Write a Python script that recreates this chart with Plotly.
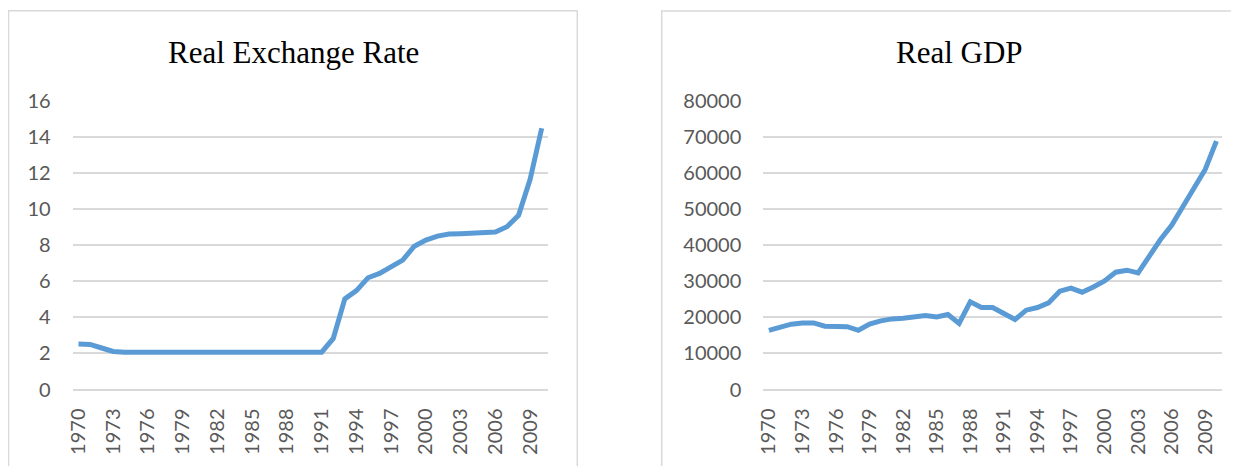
import plotly.graph_objects as go

years = list(range(1970, 2011))
year_labels = [str(y) for y in years]
tick_years = [str(y) for y in range(1970, 2011, 3)]

real_exchange_rate = [
    2.52, 2.50, 2.30, 2.11, 2.07, 2.07, 2.07, 2.07, 2.07, 2.07,
    2.07, 2.07, 2.07, 2.07, 2.07, 2.07, 2.07, 2.07, 2.07, 2.07,
    2.07, 2.07, 2.83, 5.02, 5.48, 6.19, 6.43, 6.80, 7.17, 7.94,
    8.28, 8.50, 8.61, 8.63, 8.65, 8.68, 8.72, 9.02, 9.65, 11.65,
    14.47,
]

real_gdp = [
    16400, 17300, 18100, 18450, 18450, 17530, 17530, 17400, 16400, 18100,
    19000, 19560, 19750, 20300, 20500, 20100, 20770, 18280, 24270, 22700,
    22700, 21050, 19390, 21970, 22700, 23990, 27230, 28060, 26950, 28420,
    30080, 32500, 33050, 32300, 37000, 41550, 45510, 50580, 56120, 60940,
    68780,
]

titles = ["Real Exchange Rate", "Real GDP"]
y_ranges = [[0, 16], [0, 80000]]
y_dticks = [2, 10000]

W, H = 1239, 466
OFF = 8  # page body margin in the browser
LINE_COLOR = "#5B9BD5"
GRID_COLOR = "#D9D9D9"
TICK_COLOR = "#595959"
TICK_FONT = dict(family="Lato, Open Sans, sans-serif", size=20, color=TICK_COLOR)


def px(x):
    return (x - OFF) / W


def py(y):
    return 1 - (y - OFF) / H


fig = go.Figure()

fig.add_trace(go.Scatter(x=year_labels, y=real_exchange_rate, mode="lines",
                         line=dict(color=LINE_COLOR, width=5),
                         xaxis="x", yaxis="y", showlegend=False))
fig.add_trace(go.Scatter(x=year_labels, y=real_gdp, mode="lines",
                         line=dict(color=LINE_COLOR, width=5),
                         xaxis="x2", yaxis="y2", showlegend=False))

plot_top, plot_bottom = 100.7, 389.5
x_domains = [(72.7, 547.5), (763.3, 1222.0)]

axis_common_x = dict(
    type="category",
    categoryorder="array",
    categoryarray=year_labels,
    tickmode="array",
    tickvals=tick_years,
    ticktext=tick_years,
    tickangle=-90,
    showgrid=False,
    zeroline=False,
    showline=False,
    ticks="",
    tickfont=TICK_FONT,
    ticklabelstandoff=14,
    range=[-0.5, len(years) - 0.5],
    fixedrange=True,
    automargin=False,
)

for i, (x0, x1) in enumerate(x_domains):
    xname = "xaxis" if i == 0 else "xaxis2"
    yname = "yaxis" if i == 0 else "yaxis2"
    xa = dict(axis_common_x)
    xa["domain"] = [px(x0), px(x1)]
    xa["anchor"] = "y" if i == 0 else "y2"
    ya = dict(
        domain=[py(plot_bottom), py(plot_top)],
        anchor="x" if i == 0 else "x2",
        range=y_ranges[i],
        dtick=y_dticks[i],
        tick0=0,
        showgrid=True,
        gridcolor=GRID_COLOR,
        gridwidth=1.5,
        zeroline=True,
        zerolinecolor=GRID_COLOR,
        zerolinewidth=1.5,
        showline=False,
        ticks="",
        tickfont=TICK_FONT,
        ticklabelstandoff=21,
        tickformat="d",
        fixedrange=True,
        automargin=False,
    )
    fig.update_layout(**{xname: xa, yname: ya})

# panel borders
panels = [(8.5, 10.7, 577.3, 480), (661.7, 11, 1250, 480)]
shapes = []
for (x0, y0, x1, y1) in panels:
    shapes.append(dict(type="rect", xref="paper", yref="paper",
                       x0=px(x0), x1=px(x1), y0=py(y1), y1=py(y0),
                       line=dict(color=GRID_COLOR, width=1.5),
                       fillcolor="rgba(0,0,0,0)", layer="below"))

title_centers = [293, 959]
annotations = []
for t, cx in zip(titles, title_centers):
    annotations.append(dict(text=t, xref="paper", yref="paper",
                            x=px(cx), y=py(52), xanchor="center", yanchor="middle",
                            showarrow=False,
                            font=dict(family="Liberation Serif, Times New Roman, serif",
                                      size=31, color="#000000")))

fig.update_layout(
    template="none",
    width=W, height=H,
    autosize=False,
    margin=dict(l=0, r=0, t=0, b=0, pad=0, autoexpand=False),
    paper_bgcolor="white",
    plot_bgcolor="white",
    shapes=shapes,
    annotations=annotations,
    showlegend=False,
)

fig.write_html("out.html", config={"displayModeBar": False})
